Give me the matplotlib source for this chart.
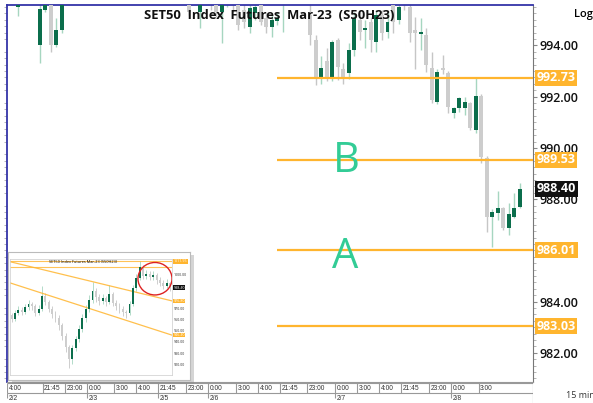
import matplotlib
matplotlib.use("Agg")
import matplotlib.pyplot as plt
from matplotlib.patches import Rectangle, Ellipse
from matplotlib.ticker import MultipleLocator
from matplotlib.transforms import blended_transform_factory

plt.rcParams["font.family"] = ["Open Sans", "DejaVu Sans"]

W, H = 593, 403

# 15 min candles, oldest first (values above ~995.6 are off the top of the chart)
opens = [996.4, 995.5, 996.3, 996.6, 996.3, 994.02, 995.4, 996.0, 994.02, 994.61,
         995.9, 996.4, 996.9, 996.7, 997.1, 997.5, 997.2, 996.9, 997.3, 997.8,
         997.4, 997.0, 996.6, 996.9, 996.7, 996.3, 996.6, 996.4, 996.7, 996.5,
         996.1, 996.3, 996.0, 996.1, 995.3, 995.9, 996.2, 996.0, 995.3, 995.9,
         996.1, 995.9, 995.4, 994.72, 995.25, 995.8, 995.07, 994.72, 994.95, 995.7,
         996.1, 996.4, 996.2, 996.0, 995.2, 994.2, 992.77, 993.4, 992.77, 994.2,
         993.1, 992.93, 993.82, 995.0, 994.6, 994.9, 994.14, 995.2, 994.53, 995.6,
         995.0, 996.2, 995.5, 994.6, 994.45, 994.41, 993.12, 991.79, 993.12, 992.93,
         991.36, 991.56, 991.56, 991.75, 990.70, 992.03, 989.61, 987.30, 987.46, 987.65,
         986.87, 987.30, 987.70]
highs = [996.8, 996.3, 996.9, 997.0, 996.7, 996.2, 995.9, 996.3, 995.07, 996.2,
         996.6, 997.1, 997.4, 997.3, 997.8, 997.9, 997.6, 997.5, 998.0, 998.2,
         997.7, 997.3, 997.1, 997.4, 997.0, 996.8, 997.0, 996.9, 997.1, 996.8,
         996.5, 996.6, 996.4, 996.4, 996.0, 996.4, 996.5, 996.3, 996.1, 996.3,
         996.4, 996.2, 995.8, 995.7, 995.8, 996.0, 995.3, 995.2, 995.3, 996.3,
         996.6, 996.8, 996.5, 996.3, 996.0, 994.4, 993.6, 993.9, 994.2, 994.3,
         993.3, 994.1, 995.3, 995.3, 995.0, 995.1, 995.4, 995.4, 995.3, 995.8,
         995.8, 996.4, 995.9, 995.1, 995.07, 994.7, 993.75, 993.1, 993.63, 993.0,
         991.6, 992.0, 991.99, 991.8, 992.77, 992.1, 989.7, 987.6, 988.3, 987.7,
         987.85, 988.24, 988.63]
lows = [995.9, 995.15, 996.0, 996.1, 995.8, 993.32, 995.3, 993.75, 993.95, 994.5,
        995.7, 996.2, 996.5, 996.3, 996.8, 996.9, 996.7, 996.6, 997.0, 997.2,
        996.8, 996.4, 996.2, 996.5, 996.1, 995.9, 996.2, 996.0, 996.3, 995.9,
        995.8, 995.7, 995.2, 995.65, 994.7, 995.7, 995.4, 995.1, 994.1, 995.5,
        995.3, 994.6, 994.7, 994.5, 995.0, 994.8, 994.49, 994.33, 994.8, 994.53,
        995.7, 996.0, 995.8, 995.65, 994.0, 992.45, 992.5, 992.6, 992.6, 992.65,
        992.5, 992.7, 993.6, 994.2, 993.9, 993.75, 993.75, 994.2, 994.3, 994.5,
        994.85, 995.4, 994.14, 993.1, 993.82, 992.96, 991.75, 991.7, 992.9, 991.36,
        991.17, 991.4, 991.28, 990.7, 990.6, 989.4, 986.7, 986.13, 987.18, 986.8,
        986.6, 987.25, 987.65]
closes = [996.2, 996.0, 996.6, 996.3, 996.0, 995.43, 995.7, 994.02, 994.61, 995.9,
          996.4, 996.9, 996.7, 997.1, 997.5, 997.2, 996.9, 997.3, 997.8, 997.4,
          997.0, 996.6, 996.9, 996.7, 996.3, 996.6, 996.4, 996.7, 996.5, 996.1,
          996.3, 996.0, 995.3, 995.8, 995.9, 996.2, 995.6, 995.3, 995.9, 996.1,
          995.7, 994.8, 994.9, 995.45, 995.5, 994.92, 994.72, 995.0, 995.07, 996.1,
          996.4, 996.2, 996.0, 995.9, 994.4, 992.77, 993.12, 992.77, 994.14, 993.16,
          992.77, 993.82, 995.07, 994.53, 994.68, 994.2, 995.19, 994.49, 994.92, 994.9,
          995.5, 995.6, 994.49, 994.5, 994.53, 993.24, 991.87, 992.96, 993.04, 991.60,
          991.56, 991.95, 991.79, 990.78, 992.03, 989.64, 987.30, 987.50, 987.65, 986.87,
          987.42, 987.65, 988.40]
last_price = 988.40

levels = [992.73, 989.53, 986.01, 983.03]
level_start = 48
price_ticks = [982, 984, 988, 990, 992, 994]

time_labels = ["4:00", "21:45", "23:00", "0:00", "3:00", "4:00", "21:45", "23:00", "0:00", "3:00",
               "4:00", "21:45", "23:00", "0:00", "3:00", "4:00", "21:45", "23:00", "0:00", "3:00"]
time_starts = [-0.9, 5.5, 9.5, 13.5, 18.5, 22.5, 26.5, 31.5, 35.5, 40.5,
               44.5, 48.5, 53.5, 58.5, 62.5, 66.5, 70.5, 75.5, 79.5, 84.5]
date_labels = ["2/2", "2/3", "2/5", "2/6", "2/7", "2/8"]
date_starts = [-0.9, 13.5, 26.5, 35.5, 58.5, 79.5]

# small overview chart (inset screenshot)
ins_closes = [961, 966, 969, 967, 971, 974, 972, 966, 970, 981, 976, 970, 965, 962, 955, 946,
              936, 925, 935, 943, 952, 962, 970, 978, 986, 980, 977, 979, 976, 983, 975, 972,
              970, 967, 966, 974, 988, 997, 1007, 999, 1001, 998, 1000, 995, 993, 990, 993, 988.4]
ins_highs = [966, 969, 972, 971, 974, 978, 976, 974, 973, 990, 984, 978, 972, 968, 964, 957,
             948, 938, 938, 946, 955, 965, 973, 982, 994, 988, 983, 983, 981, 991, 985, 978,
             975, 972, 969, 977, 991, 1001, 1012, 1009, 1004, 1003, 1003, 1002, 998, 995, 996, 994]
ins_lows = [958, 959, 964, 964, 965, 969, 969, 963, 964, 968, 973, 967, 962, 958, 951, 942,
            931, 917, 921, 932, 940, 949, 958, 967, 975, 976, 973, 974, 972, 974, 972, 969,
            966, 963, 962, 964, 972, 986, 995, 996, 996, 995, 995, 992, 990, 987, 988, 986]
ins_opens = [964] + ins_closes[:-1]
ins_levels = [1011.95, 1007.2]
ins_ticks = [920, 930, 940, 950, 960, 970, 1000]
trend_x = [-0.5, 47.6]
trend_upper = [1011.6, 976.8]
trend_lower = [992.8, 946.4]

GREEN = "#0b6e4c"
GREY = "#cdcdcd"
GREEN_WICK = "#a6d6c0"
GREY_WICK = "#c6c6c6"
ORANGE = "#ffb52e"
BLUE = "#3434a8"


def box(x0, y0, x1, y1):
    return [x0 / W, 1 - y1 / H, (x1 - x0) / W, (y1 - y0) / H]


def candles(axis, o, h, l, c, width, wick_lw):
    idx = list(range(len(c)))
    up = [cc >= oo for oo, cc in zip(o, c)]
    axis.vlines(idx, l, h, colors=[GREEN_WICK if u else GREY_WICK for u in up], lw=wick_lw, zorder=2)
    axis.bar(idx, [cc - oo for oo, cc in zip(o, c)], bottom=o, width=width,
             color=[GREEN if u else GREY for u in up], linewidth=0, zorder=3)


fig = plt.figure(figsize=(W / 100, H / 100), dpi=100)

ax = fig.add_axes(box(7, 5, 533, 382), zorder=0)
candles(ax, opens, highs, lows, closes, 0.72, 1.0)
ax.set_xlim(-0.94, 94.36)
ax.set_ylim(980.86, 995.58)
ax.hlines(levels, level_start, 94.36, colors=ORANGE, lw=1.6, zorder=4)

ax.set_xticks([])
ax.yaxis.tick_right()
ax.set_yticks(price_ticks, labels=[f"{t:.2f}" for t in price_ticks], fontweight="semibold")
ax.yaxis.set_minor_locator(MultipleLocator(0.25))
ax.tick_params(axis="y", which="major", length=3, color="#888888", labelsize=9, pad=2, labelcolor="#111111")
ax.tick_params(axis="y", which="minor", left=True, right=True, length=2, color="#aaaaaa")
ax.spines["left"].set_color(BLUE)
ax.spines["top"].set_color(BLUE)
ax.spines["left"].set_linewidth(1.3)
ax.spines["top"].set_linewidth(1.3)
ax.spines["right"].set_color("#777777")
ax.spines["right"].set_linewidth(0.8)
ax.spines["bottom"].set_color("#999999")
ax.spines["bottom"].set_linewidth(0.8)

trans = blended_transform_factory(ax.transAxes, ax.transData)
for lvl in levels:
    ax.text(1.007, lvl, f"{lvl:.2f}", transform=trans, ha="left", va="center", color="white",
            fontsize=9, fontweight="bold",
            bbox=dict(boxstyle="square,pad=0.12", fc=ORANGE, ec="none"))
ax.text(1.007, last_price, f"{last_price:.2f}", transform=trans, ha="left", va="center", color="white",
        fontsize=9, fontweight="bold", bbox=dict(boxstyle="square,pad=0.12", fc="#111111", ec="none"))

ax.text(0.498, 0.972, "SET50  Index  Futures  Mar-23  (S50H23)", transform=ax.transAxes,
        ha="center", va="center", fontsize=9.4, fontweight="bold", color="#111111", zorder=6)
ax.text(60.5, 989.06, "B", ha="center", va="baseline", fontsize=30, color="#33cc96", zorder=6)
ax.text(60.3, 985.31, "A", ha="center", va="baseline", fontsize=30, color="#33cc96", zorder=6)

fig.text(574 / W, 1 - 14 / H, "Log", fontsize=8, fontweight="semibold", va="center")
fig.text(566 / W, 1 - 396 / H, "15 min", fontsize=6.5, color="#333333", va="center")

# time axis rows
tax = fig.add_axes(box(7, 382, 533, 403), zorder=0)
tax.set_xlim(-0.94, 94.36)
tax.set_ylim(21, 0)
tax.axis("off")
tax.hlines([1, 11], -0.94, 94.36, colors="#999999", lw=0.8)
tax.vlines(time_starts, 1, 11, colors="#999999", lw=0.8)
tax.vlines([94.36], 0, 21, colors="#777777", lw=0.8)
for x, lab in zip(time_starts, time_labels):
    tax.text(x + 0.3, 6.2, lab, fontsize=4.8, va="center", ha="left", color="#333333",
             family=["Liberation Sans", "DejaVu Sans"])
tax.vlines(date_starts, 11, 16, colors="#999999", lw=0.8)
for x, lab in zip(date_starts, date_labels):
    tax.text(x + 0.3, 16.5, lab, fontsize=4.8, va="center", ha="left", color="#333333",
             family=["Liberation Sans", "DejaVu Sans"])

# inset screenshot of the bigger picture
fig.patches.append(Rectangle((12 / W, 1 - 384 / H), 182 / W, 129 / H, transform=fig.transFigure,
                             fc="#888888", alpha=0.35, ec="none", zorder=1.5))
panel = fig.add_axes(box(8, 252, 190, 380), zorder=2)
panel.set_xticks([])
panel.set_yticks([])
for s in panel.spines.values():
    s.set_color("#bbbbbb")
    s.set_linewidth(0.8)

ins = fig.add_axes(box(10, 259, 172, 375), zorder=3)
candles(ins, ins_opens, ins_highs, ins_lows, ins_closes, 0.55, 0.6)
ins.set_xlim(-0.5, 47.6)
ins.set_ylim(911, 1014)
ins.set_xticks([])
ins.set_yticks([])
for s in ins.spines.values():
    s.set_color("#cccccc")
    s.set_linewidth(0.5)
ins.hlines(ins_levels, -0.5, 47.6, colors=ORANGE, lw=0.8, alpha=0.8)
ins.plot(trend_x, trend_upper, color=ORANGE, lw=0.9, alpha=0.85)
ins.plot(trend_x, trend_lower, color=ORANGE, lw=0.9, alpha=0.85)
ins.add_patch(Ellipse((0.895, 0.83), 0.21, 0.28, transform=ins.transAxes, fill=False,
                      ec="#dd2222", lw=1.0, zorder=6))
ins.text(0.45, 0.975, "SET50 Index Futures Mar-23 (S50H23)", transform=ins.transAxes,
         fontsize=2.8, ha="center", va="center")
itrans = blended_transform_factory(ins.transAxes, ins.transData)
for v in ins_ticks:
    ins.text(1.01, v, f"{v:.2f}", transform=itrans, fontsize=2.6, va="center", color="#333333")
for v in [ins_levels[0], trend_upper[1], trend_lower[1]]:
    ins.text(1.01, v, f"{v:.2f}", transform=itrans, fontsize=2.6, va="center", color="white",
             bbox=dict(boxstyle="square,pad=0.1", fc=ORANGE, ec="none"))
ins.text(1.01, ins_closes[-1], f"{ins_closes[-1]:.2f}", transform=itrans, fontsize=2.6, va="center",
         color="white", bbox=dict(boxstyle="square,pad=0.1", fc="#111111", ec="none"))

fig.savefig("out.png", dpi=100)
